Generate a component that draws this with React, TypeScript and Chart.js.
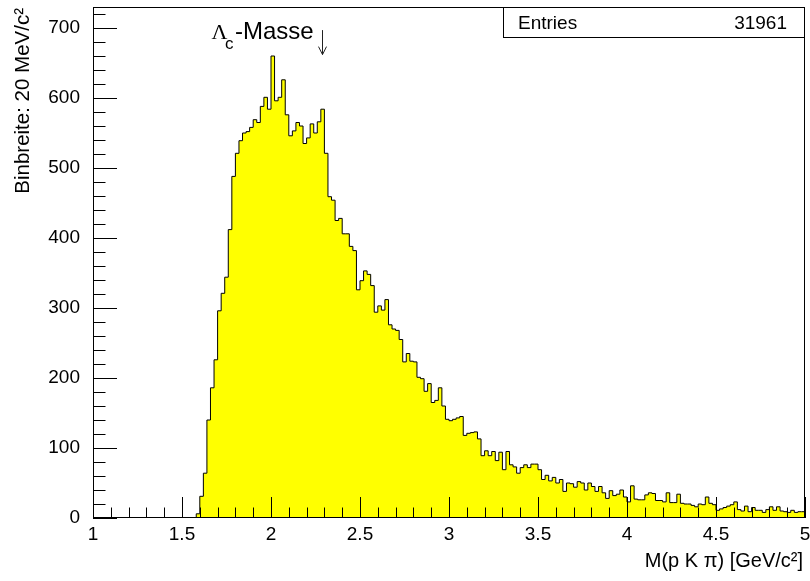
import { useEffect, useRef } from "react";
import { Chart, registerables } from "chart.js";

Chart.register(...registerables);

// ---- data (bin contents, 20 MeV bins) ----
const binLow = 1.58; // lower edge of first non-empty bin (GeV)
const binWidth = 0.02; // GeV
const counts = [
  6, 31, 64, 140, 186, 226, 296, 321, 344, 412,
  488, 521, 539, 550, 552, 558, 569, 565, 588, 601,
  584, 660, 596, 601, 626, 576, 546, 553, 565, 560,
  535, 543, 563, 550, 566, 584, 521, 459, 454, 425,
  428, 406, 406, 388, 382, 326, 339, 353, 348, 332,
  294, 303, 297, 312, 276, 270, 268, 255, 223, 235,
  224, 223, 201, 199, 181, 192, 165, 168, 186, 160,
  141, 139, 141, 143, 145, 118, 121, 122, 123, 113,
  89, 96, 89, 95, 82, 94, 69, 95, 76, 73,
  64, 72, 76, 72, 77, 77, 69, 55, 61, 53,
  58, 50, 55, 38, 50, 49, 44, 52, 50, 40,
  50, 45, 38, 45, 36, 28, 39, 32, 34, 40,
  30, 23, 46, 27, 26, 26, 33, 36, 35, 25,
  25, 23, 36, 22, 22, 34, 21, 20, 20, 18,
  16, 20, 19, 30, 21, 19, 11, 13, 15, 17,
  19, 23, 12, 10, 17, 9, 15, 11, 11, 8,
  12, 16, 11, 16, 10, 9, 8, 11, 8, 9,
  9,
];
const xMin = 1;
const xMax = 5;
const yMin = 0;
const yMax = 730;
const xMajorStep = 0.5;
const xMinorStep = 0.1;
const yMajorStep = 100;
const yMinorStep = 20;
const entries = 31961;
const lambdaCMass = 2.286; // GeV/c^2
const arrowFrom = 697;
const arrowTo = 662;

const xTitle = "M(p K \u03c0) [GeV/c\u00b2]";
const yTitle = "Binbreite: 20 MeV/c\u00b2";
const statsLabel = "Entries";
const annotationSymbol = "\u039b";
const annotationSub = "c";
const annotationText = "-Masse";

const SANS = "'Liberation Sans', Arial, Helvetica, sans-serif";
const SERIF = "'Liberation Serif', 'Times New Roman', serif";

function buildPoints() {
  const pts: { x: number; y: number }[] = [{ x: xMin, y: 0 }];
  counts.forEach((c, i) => {
    pts.push({ x: +(binLow + i * binWidth).toFixed(4), y: c });
  });
  pts.push({ x: xMax, y: counts[counts.length - 1] });
  return pts;
}

const rootPlugin = {
  id: "rootStyle",
  afterDatasetsDraw(chart: any) {
    const { ctx, chartArea } = chart;
    const xs = chart.scales.x;
    const ys = chart.scales.y;
    ctx.save();
    ctx.strokeStyle = "#000";
    ctx.lineWidth = 1;
    // x ticks (inside, pointing up)
    const nx = Math.round((xMax - xMin) / xMinorStep);
    const every = Math.round(xMajorStep / xMinorStep);
    for (let i = 0; i <= nx; i++) {
      const v = xMin + i * xMinorStep;
      const px = Math.round(xs.getPixelForValue(v)) + 0.5;
      const len = i % every === 0 ? 21 : 10.5;
      ctx.beginPath();
      ctx.moveTo(px, chartArea.bottom);
      ctx.lineTo(px, chartArea.bottom - len);
      ctx.stroke();
    }
    // y ticks (inside, pointing right)
    for (let v = yMin; v <= yMax; v += yMinorStep) {
      const py = Math.round(ys.getPixelForValue(v)) + 0.5;
      const len = v % yMajorStep === 0 ? 24 : 12.5;
      ctx.beginPath();
      ctx.moveTo(chartArea.left, py);
      ctx.lineTo(chartArea.left + len, py);
      ctx.stroke();
    }
    // frame
    ctx.strokeRect(
      Math.round(chartArea.left) + 0.5,
      Math.round(chartArea.top) + 0.5,
      Math.round(chartArea.right - chartArea.left) - 1,
      Math.round(chartArea.bottom - chartArea.top) - 1
    );
    ctx.restore();
  },
  afterDraw(chart: any) {
    const { ctx, chartArea } = chart;
    const xs = chart.scales.x;
    const ys = chart.scales.y;
    ctx.save();
    ctx.fillStyle = "#000";
    ctx.strokeStyle = "#000";
    ctx.lineWidth = 1;

    // stats box
    const bx = 503.5;
    const by = Math.round(chartArea.top) + 0.5;
    const bw = Math.round(chartArea.right) - 1 - bx + 0.5;
    const bh = 30;
    ctx.fillStyle = "#fff";
    ctx.fillRect(bx, by, bw, bh);
    ctx.strokeRect(bx, by, bw, bh);
    ctx.fillStyle = "#000";
    ctx.font = `19px ${SANS}`;
    ctx.textBaseline = "alphabetic";
    ctx.textAlign = "left";
    ctx.fillText(statsLabel, 518, 28.5);
    ctx.textAlign = "right";
    ctx.fillText(String(entries), 787, 28.5);

    // x-axis title
    ctx.textAlign = "right";
    ctx.font = `20px ${SANS}`;
    ctx.fillText(xTitle, 803, 566.5);

    // y-axis title
    ctx.save();
    ctx.translate(28.5, 8);
    ctx.rotate(-Math.PI / 2);
    ctx.textAlign = "right";
    ctx.font = `20.5px ${SANS}`;
    ctx.fillText(yTitle, 0, 0);
    ctx.restore();

    // annotation
    ctx.textAlign = "left";
    ctx.font = `22px ${SERIF}`;
    ctx.fillText(annotationSymbol, 211.5, 38.5);
    ctx.font = `17px ${SANS}`;
    ctx.fillText(annotationSub, 225, 48.5);
    ctx.font = `24px ${SANS}`;
    ctx.fillText(annotationText, 235, 38.5);

    // arrow at Lambda_c mass
    const ax = Math.round(xs.getPixelForValue(lambdaCMass)) + 0.5;
    const y0 = ys.getPixelForValue(arrowFrom);
    const y1 = ys.getPixelForValue(arrowTo);
    ctx.strokeStyle = "#222";
    ctx.beginPath();
    ctx.moveTo(ax, y0);
    ctx.lineTo(ax, y1);
    ctx.moveTo(ax - 4, y1 - 8);
    ctx.lineTo(ax, y1);
    ctx.lineTo(ax + 4, y1 - 8);
    ctx.stroke();
    ctx.restore();
  },
};

export default function App() {
  const ref = useRef<HTMLCanvasElement | null>(null);
  useEffect(() => {
    document.body.style.margin = "0";
    const canvas = ref.current;
    if (!canvas) return;
    const chart = new Chart(canvas, {
      type: "line",
      data: {
        datasets: [
          {
            data: buildPoints(),
            stepped: "before",
            borderColor: "#000",
            borderWidth: 1,
            backgroundColor: "#ffff00",
            fill: "origin",
            pointRadius: 0,
            tension: 0,
          },
        ],
      },
      options: {
        responsive: false,
        animation: false,
        devicePixelRatio: 1,
        layout: { padding: { left: 0, top: 7, right: 5, bottom: 0 } },
        plugins: {
          legend: { display: false },
          tooltip: { enabled: false },
          title: { display: false },
        },
        scales: {
          x: {
            type: "linear",
            min: xMin,
            max: xMax,
            afterFit: (s: any) => {
              s.height = 63;
              s.paddingLeft = 0;
              s.paddingRight = 0;
            },
            ticks: {
              stepSize: xMajorStep,
              includeBounds: false,
              autoSkip: false,
              maxRotation: 0,
              padding: 5,
              color: "#000",
              font: { family: SANS, size: 19 },
              callback: (v: any) => String(Number(v)),
            },
            grid: { display: false, drawTicks: false },
            border: { display: false },
          },
          y: {
            type: "linear",
            min: yMin,
            max: yMax,
            afterFit: (s: any) => {
              s.width = 93;
              s.paddingTop = 0;
              s.paddingBottom = 0;
            },
            ticks: {
              stepSize: yMajorStep,
              includeBounds: false,
              padding: 13,
              color: "#000",
              font: { family: SANS, size: 19 },
            },
            grid: { display: false, drawTicks: false },
            border: { display: false },
          },
        },
      },
      plugins: [rootPlugin],
    } as any);
    return () => chart.destroy();
  }, []);
  return (
    <div style={{ position: "absolute", left: 0, top: 0, width: 810, height: 581 }}>
      <canvas ref={ref} width={810} height={581} style={{ width: 810, height: 581 }} />
    </div>
  );
}
